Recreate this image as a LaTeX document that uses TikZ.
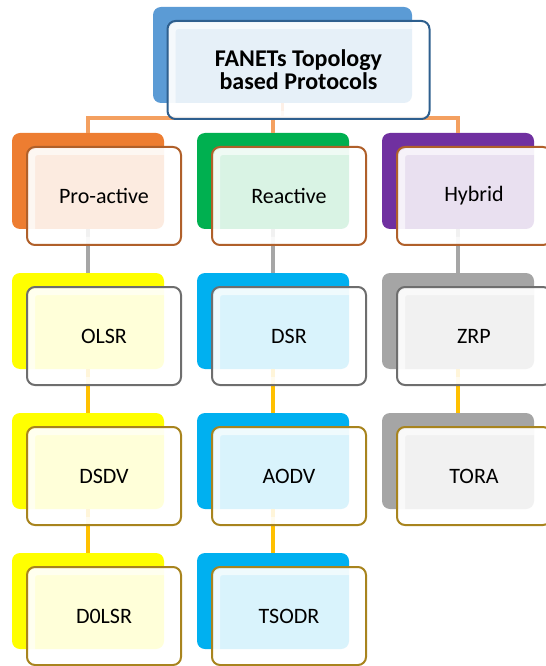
\documentclass[tikz,border=0pt]{standalone}
\usepackage{fontspec}
\setmainfont{Carlito}
\usepackage{tikz}
\usetikzlibrary{positioning}

\definecolor{topblue}{HTML}{5B9BD5}
\definecolor{topedge}{HTML}{2E5F8E}
\definecolor{proorange}{HTML}{ED7D31}
\definecolor{regreen}{HTML}{00B050}
\definecolor{hypurple}{HTML}{7030A0}
\definecolor{boxyellow}{HTML}{FFFF00}
\definecolor{boxcyan}{HTML}{00B0F0}
\definecolor{boxgray}{HTML}{A5A5A5}
\definecolor{rimorange}{HTML}{B0602A}
\definecolor{rimgray}{HTML}{6E6E6E}
\definecolor{rimgold}{HTML}{A8841E}
\definecolor{busorange}{HTML}{F4A060}
\definecolor{linegray}{HTML}{A6A6A6}
\definecolor{linegold}{HTML}{FFC000}

\begin{document}
\begin{tikzpicture}[
    node distance=33pt,
    backbox/.style={rectangle, rounded corners=6pt, minimum width=114pt, minimum height=72pt, inner sep=0pt, outer sep=0pt},
    frontbox/.style={rectangle, rounded corners=6pt, minimum width=115.5pt, minimum height=73.5pt, text centered, line width=1.5pt, fill=white, fill opacity=0.85, text opacity=1, xshift=12pt, yshift=-11.25pt, font=\fontsize{16.5}{18}\selectfont,
        path picture={\draw[white, opacity=0.6, line width=5pt, rounded corners=4pt] ([shift={(3.5pt,-3.5pt)}]path picture bounding box.north west) rectangle ([shift={(-3.5pt,3.5pt)}]path picture bounding box.south east);}},
    busline/.style={line width=2.6pt, draw=busorange},
    grayline/.style={line width=2.6pt, draw=linegray},
    goldline/.style={line width=2.6pt, draw=linegold}
]
\useasboundingbox (0,0) rectangle (408.75pt,-499.5pt);

% Back boxes
\node (top) [backbox, minimum width=194.25pt, fill=topblue] at (211.875pt,-41.25pt) {};
\node (react) [backbox, fill=regreen, below=22.5pt of top, xshift=-7.125pt] {};
\node (pro) [backbox, fill=proorange, left=24.75pt of react] {};
\node (hyb) [backbox, fill=hypurple, right=24.75pt of react] {};
\node (olsr) [backbox, fill=boxyellow, below=of pro] {};
\node (dsdv) [backbox, fill=boxyellow, below=of olsr] {};
\node (dolsr) [backbox, fill=boxyellow, below=of dsdv] {};
\node (dsr) [backbox, fill=boxcyan, below=of react] {};
\node (aodv) [backbox, fill=boxcyan, below=of dsr] {};
\node (tsodr) [backbox, fill=boxcyan, below=of aodv] {};
\node (zrp) [backbox, fill=boxgray, below=of hyb] {};
\node (tora) [backbox, fill=boxgray, below=of zrp] {};

% Connectors
\draw [busline] (top.south) -- ++(0,-11.25pt) coordinate (bus);
\draw [busline] (bus) -| (pro.north);
\draw [busline] (bus) -| (react.north);
\draw [busline] (bus) -| (hyb.north);
\draw [grayline] (pro) -- (olsr);
\draw [grayline] (react) -- (dsr);
\draw [grayline] (hyb) -- (zrp);
\draw [goldline] (olsr) -- (dsdv);
\draw [goldline] (dsdv) -- (dolsr);
\draw [goldline] (dsr) -- (aodv);
\draw [goldline] (aodv) -- (tsodr);
\draw [goldline] (zrp) -- (tora);

% Front boxes
\node (topF) [frontbox, minimum width=196.5pt, draw=topedge, align=center, font=\bfseries\fontsize{18}{17.5}\selectfont] at (top) {FANETs Topology\\based Protocols};
\node (proF) [frontbox, draw=rimorange] at (pro) {Pro-active};
\node (reactF) [frontbox, draw=rimorange] at (react) {Reactive};
\node (hybF) [frontbox, draw=rimorange] at (hyb) {Hybrid};
\node (olsrF) [frontbox, draw=rimgray] at (olsr) {OLSR};
\node (dsrF) [frontbox, draw=rimgray] at (dsr) {DSR};
\node (zrpF) [frontbox, draw=rimgray] at (zrp) {ZRP};
\node (dsdvF) [frontbox, draw=rimgold] at (dsdv) {DSDV};
\node (aodvF) [frontbox, draw=rimgold] at (aodv) {AODV};
\node (toraF) [frontbox, draw=rimgold] at (tora) {TORA};
\node (dolsrF) [frontbox, draw=rimgold] at (dolsr) {D0LSR};
\node (tsodrF) [frontbox, draw=rimgold] at (tsodr) {TSODR};

\end{tikzpicture}
\end{document}
